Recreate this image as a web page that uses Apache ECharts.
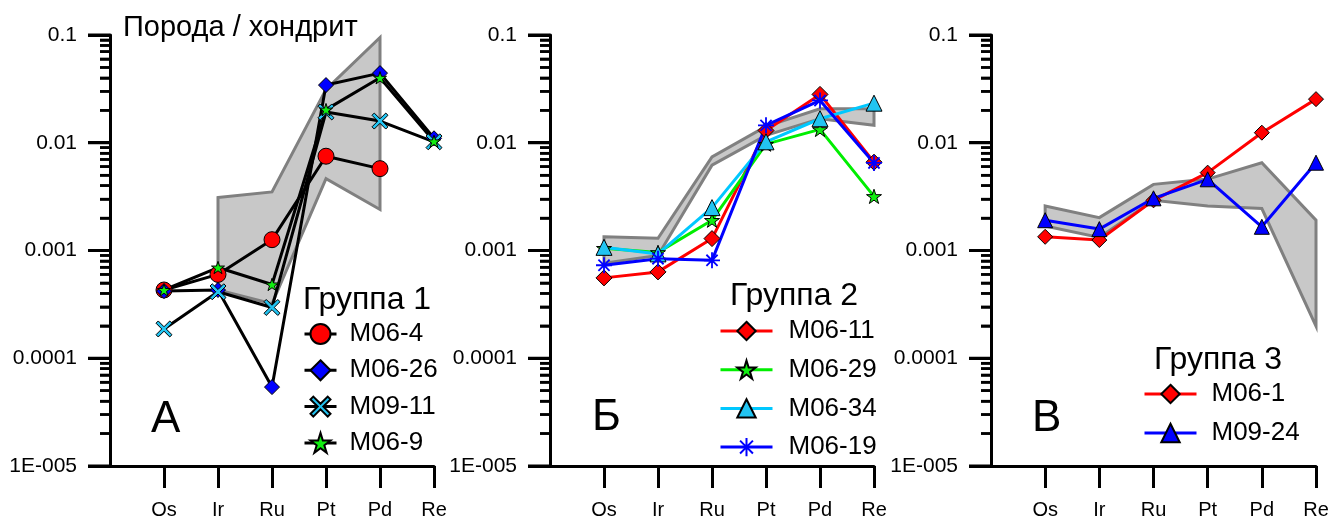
<!DOCTYPE html>
<html>
<head>
<meta charset="utf-8">
<script src="https://cdn.jsdelivr.net/npm/echarts@6/dist/echarts.min.js"></script>
<style>
  html, body { margin: 0; padding: 0; background: #fff; }
  #chart { width: 1333px; height: 522px; }
</style>
</head>
<body>
<div id="chart"></div>
<script>
// Elements on the x axis (chondrite-normalised PGE + Re)
const elements = ['Os', 'Ir', 'Ru', 'Pt', 'Pd', 'Re'];
const xCats = [''].concat(elements);

// Log-axis decade labels and tick positions
const yDecades = [-1, -2, -3, -4, -5];
const yDecadeLabels = ['0.1', '0.01', '0.001', '0.0001', '1E-005'];
const yMajorTicks = [1e-5, 1e-4, 1e-3, 1e-2, 1e-1];
const yMinorSteps = [2, 3, 4, 5, 6, 7, 8, 9];

// Group 1
const m06_4  = [4.3e-4, 6.0e-4, 1.26e-3, 7.5e-3, 5.75e-3, null];
const m06_26 = [4.2e-4, 4.3e-4, 5.4e-5, 0.0343, 0.0443, 0.011];
const m09_11 = [1.87e-4, 4.14e-4, 2.96e-4, 0.0193, 0.0159, 0.0102];
const m06_9  = [4.3e-4, 6.95e-4, 4.84e-4, 0.0203, 0.0401, 0.0103];
const bandA_hi = [null, 3.1e-3, 3.5e-3, 0.0313, 0.095, null];
const bandA_lo = [null, 4.3e-4, 3.2e-4, 4.65e-3, 2.4e-3, null];

// Group 2
const m06_11 = [5.57e-4, 6.33e-4, 1.29e-3, 0.013, 0.0281, 6.6e-3];
const m06_29 = [1.05e-3, 9.6e-4, 1.91e-3, 9.7e-3, 0.0133, 3.18e-3];
const m06_34 = [1.07e-3, 9.3e-4, 2.5e-3, 0.0102, 0.0167, 0.0233];
const m06_19 = [7.3e-4, 8.4e-4, 8.1e-4, 0.0145, 0.0247, 6.5e-3];
const bandB_hi = [1.34e-3, 1.3e-3, 7.4e-3, 0.0142, 0.0207, 0.0207];
const bandB_lo = [7.6e-4, 9.0e-4, 6.2e-3, 0.0117, 0.0167, 0.0145];

// Group 3
const m06_1  = [1.34e-3, 1.25e-3, 2.92e-3, 5.28e-3, 0.0124, 0.0254];
const m09_24 = [1.91e-3, 1.58e-3, 3.05e-3, 4.58e-3, 1.66e-3, 6.53e-3];
const bandC_hi = [2.59e-3, 2.02e-3, 4.11e-3, 4.6e-3, 6.53e-3, 1.91e-3];
const bandC_lo = [1.69e-3, 1.32e-3, 2.92e-3, 2.59e-3, 2.45e-3, 1.99e-4];

const FONT = "'Liberation Sans', Arial, sans-serif";

// Marker shapes
const STAR = 'path://M50,0 L61.2,34.5 L97.6,34.5 L68.2,55.9 L79.4,90.5 L50,69.1 L20.6,90.5 L31.8,55.9 L2.4,34.5 L38.8,34.5 Z';
const CROSS = 'path://M0,14 L14,0 L50,36 L86,0 L100,14 L64,50 L100,86 L86,100 L50,64 L14,100 L0,86 L36,50 Z';
const ASTER = 'path://M50,0 L50,100 M0,50 L100,50 M15,15 L85,85 M85,15 L15,85';

const grids = [
  { left: 110, top: 35, width: 324, height: 431 },
  { left: 550, top: 35, width: 324, height: 431 },
  { left: 991, top: 35, width: 325, height: 431 }
];

const xAxes = grids.map((g, i) => ({
  gridIndex: i,
  type: 'category',
  data: xCats,
  boundaryGap: false,
  axisLine: { show: true, lineStyle: { color: '#000', width: 3 } },
  axisTick: { show: true, length: 22, lineStyle: { color: '#000', width: 3 },
              interval: (idx) => idx > 0 },
  axisLabel: { interval: 0, margin: 34, fontSize: 20, color: '#000' },
  splitLine: { show: false }
}));

const yAxes = grids.map((g, i) => ({
  gridIndex: i,
  type: 'log',
  logBase: 10,
  min: 1e-5,
  max: 0.1,
  axisLine: { show: true, lineStyle: { color: '#000', width: 3 } },
  axisTick: { show: true, length: 22, lineStyle: { color: '#000', width: 3 } },
  minorTick: { show: true, splitNumber: 9, length: 10, lineStyle: { color: '#000', width: 2.5 } },
  axisLabel: {
    margin: 33, fontSize: 21, color: '#000',
    formatter: (v) => {
      const k = yDecades.indexOf(Math.round(Math.log10(v)));
      return k >= 0 ? yDecadeLabels[k] : String(v);
    }
  },
  splitLine: { show: false },
  minorSplitLine: { show: false }
}));

// Shaded field drawn as one polygon: upper edge left-to-right, lower edge back
function band(panel, hi, lo) {
  return {
    type: 'custom',
    xAxisIndex: panel,
    yAxisIndex: panel,
    silent: true,
    z: 1,
    data: [[1, 1e-3]],
    renderItem: (params, api) => {
      const top = [], bot = [];
      hi.forEach((v, i) => { if (v != null) top.push(api.coord([i + 1, v])); });
      lo.forEach((v, i) => { if (v != null) bot.push(api.coord([i + 1, v])); });
      return {
        type: 'polygon',
        shape: { points: top.concat(bot.reverse()) },
        style: { fill: '#c8c8c8', stroke: '#808080', lineWidth: 3, lineJoin: 'miter' }
      };
    }
  };
}

function sample(name, panel, values, lineColor, symbol, size, fill, extra) {
  const s = {
    type: 'line',
    name: name,
    xAxisIndex: panel,
    yAxisIndex: panel,
    data: values.map((v, i) => (v == null ? null : [i + 1, v])).filter(Boolean),
    symbol: symbol,
    symbolSize: size,
    symbolKeepAspect: true,
    showAllSymbol: true,
    z: 3,
    lineStyle: { color: lineColor, width: 3 },
    itemStyle: { color: fill, borderColor: '#000', borderWidth: 1 },
    emphasis: { disabled: true }
  };
  return Object.assign(s, extra || {});
}

const CYAN = '#22c4f2';
const GREEN = '#11ee11';

const series = [
  band(0, bandA_hi, bandA_lo),
  band(1, bandB_hi, bandB_lo),
  band(2, bandC_hi, bandC_lo),

  sample('M06-4', 0, m06_4, '#000', 'circle', 16, '#ff0000'),
  sample('M06-26', 0, m06_26, '#000', 'diamond', 15, '#0000ff'),
  sample('M09-11', 0, m09_11, '#000', CROSS, 16, CYAN),
  sample('M06-9', 0, m06_9, '#000', STAR, 13, GREEN),

  sample('M06-11', 1, m06_11, '#ff0000', 'diamond', 16, '#ff0000'),
  sample('M06-29', 1, m06_29, '#00ee00', STAR, 15, GREEN),
  sample('M06-34', 1, m06_34, '#00c8ff', 'triangle', 16, CYAN),
  sample('M06-19', 1, m06_19, '#0000ff', ASTER, 16, 'rgba(0,0,0,0)',
         { itemStyle: { color: 'rgba(0,0,0,0)', borderColor: '#0000ff', borderWidth: 1.8 } }),

  sample('M06-1', 2, m06_1, '#ff0000', 'diamond', 15, '#ff0000'),
  sample('M09-24', 2, m09_24, '#0000ff', 'triangle', 15, '#0000ff')
];

function legend(names, left, top, itemWidth, itemHeight, gap, pad) {
  return {
    data: names,
    orient: 'vertical',
    left: left,
    top: top,
    itemWidth: itemWidth,
    itemHeight: itemHeight,
    itemGap: gap,
    padding: 0,
    selectedMode: false,
    lineStyle: { width: 3 },
    textStyle: { fontSize: 26, color: '#000', fontFamily: FONT, padding: [0, 0, 0, pad] }
  };
}

const legends = [
  legend(['M06-4', 'M06-26', 'M09-11', 'M06-9'], 303, 321, 32, 25, 10.3, 8),
  legend(['M06-11', 'M06-29', 'M06-34', 'M06-19'], 719, 318, 52, 23, 12.7, 11),
  legend(['M06-1', 'M09-24'], 1143, 381, 52, 23, 13, 10)
];

function label(text, x, y, size) {
  return {
    type: 'text', x: x, y: y, z: 10,
    style: { text: text, fontSize: size, fontFamily: FONT, fill: '#000', verticalAlign: 'middle', align: 'left' }
  };
}

const labels = [
  label('Порода / хондрит', 123, 28, 29),
  label('Группа 1', 303, 300, 32),
  label('Группа 2', 730, 296, 32),
  label('Группа 3', 1154, 360, 32),
  label('А', 151, 420, 44),
  label('Б', 592, 418, 44),
  label('В', 1032, 419, 44)
];

const chart = echarts.init(document.getElementById('chart'));
chart.setOption({
  animation: false,
  textStyle: { fontFamily: FONT },
  grid: grids,
  xAxis: xAxes,
  yAxis: yAxes,
  legend: legends,
  series: series,
  graphic: labels
});

// Outward decade / sub-decade tick marks, positioned through each panel's log axis
const tickMarks = [];
grids.forEach((g, i) => {
  const add = (v, len, w) => {
    const y = chart.convertToPixel({ yAxisIndex: i }, v);
    if (!isFinite(y)) return;
    tickMarks.push({
      type: 'line', z: 20, silent: true,
      shape: { x1: g.left - len, y1: y, x2: g.left, y2: y },
      style: { stroke: '#000', lineWidth: w }
    });
  };
  yMajorTicks.forEach((v) => add(v, 22, 3));
  yMajorTicks.slice(0, -1).forEach((v) => yMinorSteps.forEach((k) => add(v * k, 10, 2.5)));
});
chart.setOption({ graphic: labels.concat(tickMarks) });
</script>
</body>
</html>
